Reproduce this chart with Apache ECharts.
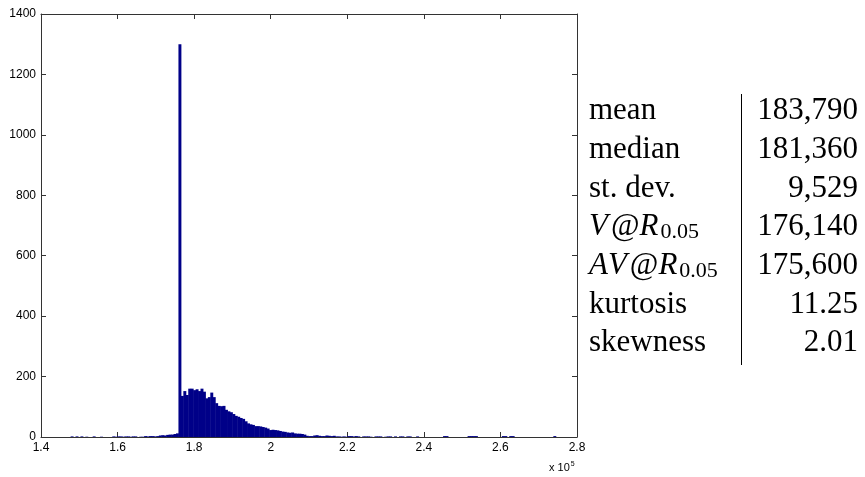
<!DOCTYPE html>
<html><head><meta charset="utf-8">
<script src="https://cdn.jsdelivr.net/npm/echarts@6/dist/echarts.min.js"></script>
<style>html,body{margin:0;padding:0;background:#fff}#c{width:865px;height:477px}</style>
</head><body><div id="c"></div>
<script>
// histogram bins: start value and width of each bin
const binStart = 147100;
const binWidth = 640;
// counts left of the spike
const leftCounts = [0,2,0,2,0,2,0,1,0,0, 2,0,0,1,0,0,0,0,2,1, 2,2,1,2,2,1,2,2,0,1, 1,3,2,3,3,2,3,5,6,5, 7,8,8,10,12];
// the spike bin
const spikeCounts = [1300];
// main body right of the spike
const bodyCounts = [136,152,139,160,160,155,158,152,160,150, 128,132,147,132,112,103,102,103,90,85, 82,76,70,67,63,60,52,45,42,40, 36,36,35,33,31,28,23,24,23,22, 20,18,17,15,14,15,12,11,11];
// right tail
const tailCounts = [10,8,4,3,3,5,6,4,3,3, 5,4,3,4,2,2,1,2,1,3, 3,2,3,2,0,2,2,2,1,0, 2,2,2,0,1,2,2,0,2,0, 2,2,0,2,2,0,0,2,0,0, 0,0,0,0,0,0,0,0,3,3, 0,0,0,0,0,0,0,0,3,3, 3,3,0,0,0,0,0,0,0,0, 0,0,3,3,0,3,3,0,0,0, 0,0,0,0,0,0,0,0,0,0, 0,0,0,3,0];

const xTickLabels = ['1.4','1.6','1.8','2','2.2','2.4','2.6','2.8'];
const yTickLabels = ['0','200','400','600','800','1000','1200','1400'];

const statLabels = ['mean','median','st. dev.','{itv|V}@{it|R}{sub|0.05}','{it|A}{itv|V}@{it|R}{sub|0.05}','kurtosis','skewness'];
const statValues = ['183,790','181,360','9,529','176,140','175,600','11.25','2.01'];

const counts = leftCounts.concat(spikeCounts, bodyCounts, tailCounts);
const histData = counts.map((c, i) => [binStart + i * binWidth, binStart + (i + 1) * binWidth, c]);

const XMIN = 140000, XMAX = 280000, XINT = 20000;
const YMIN = 0, YMAX = 1400, YINT = 200;
const axisColor = '#333';
const labelFont = 'Liberation Sans, Arial, sans-serif';
const serif = 'Liberation Serif, Times New Roman, serif';

function xAxisDef(pos, showLabel) {
  return {
    type: 'value', min: XMIN, max: XMAX, interval: XINT, position: pos,
    axisLine: { show: true, onZero: false, lineStyle: { color: axisColor, width: 1 } },
    axisTick: { show: true, inside: true, length: 5, lineStyle: { color: axisColor } },
    axisLabel: { show: showLabel, color: '#000', fontSize: 12, fontFamily: labelFont, margin: 5,
      formatter: v => xTickLabels[Math.round((v - XMIN) / XINT)] },
    splitLine: { show: false }
  };
}
function yAxisDef(pos, showLabel) {
  return {
    type: 'value', min: YMIN, max: YMAX, interval: YINT, position: pos,
    axisLine: { show: true, onZero: false, lineStyle: { color: axisColor, width: 1 } },
    axisTick: { show: true, inside: true, length: 5, lineStyle: { color: axisColor } },
    axisLabel: { show: showLabel, color: '#000', fontSize: 12, fontFamily: labelFont, margin: 5,
      formatter: v => yTickLabels[Math.round((v - YMIN) / YINT)] },
    splitLine: { show: false }
  };
}

const rowH = 38.7;
const firstRowCenter = 111;

const chart = echarts.init(document.getElementById('c'), null, { renderer: 'canvas' });
chart.setOption({
  animation: false,
  backgroundColor: '#fff',
  grid: { left: 41, right: 288, top: 14, bottom: 40, containLabel: false },
  xAxis: [xAxisDef('bottom', true), xAxisDef('top', false)],
  yAxis: [yAxisDef('left', true), yAxisDef('right', false)],
  series: [{
    type: 'custom',
    xAxisIndex: 0, yAxisIndex: 0,
    encode: { x: [0, 1], y: 2 },
    data: histData,
    clip: true,
    renderItem: function (params, api) {
      const c = api.value(2);
      if (!c) return null;
      const p0 = api.coord([api.value(0), c]);
      const p1 = api.coord([api.value(1), 0]);
      return {
        type: 'rect',
        shape: { x: p0[0], y: p0[1], width: p1[0] - p0[0] + 0.5, height: p1[1] - p0[1] },
        style: { fill: '#000088' }
      };
    }
  }],
  graphic: [
    {
      type: 'text', x: 549, y: 468,
      style: {
        text: 'x 10{sup|5}', fill: '#000', fontSize: 11, fontFamily: labelFont,
        align: 'left', verticalAlign: 'middle',
        rich: { sup: { fontSize: 7, fontFamily: labelFont, fill: '#000', padding: [0, 0, 8, 1] } }
      }
    },
    {
      type: 'text', x: 589, y: firstRowCenter - rowH / 2,
      style: {
        text: statLabels.join('\n'), fill: '#000', fontSize: 31, fontFamily: serif,
        lineHeight: rowH, align: 'left', verticalAlign: 'top',
        rich: {
          it: { fontSize: 31, fontFamily: serif, fontStyle: 'italic', lineHeight: rowH, fill: '#000' },
          itv: { fontSize: 31, fontFamily: serif, fontStyle: 'italic', lineHeight: rowH, fill: '#000', padding: [0, 3, 0, 0] },
          sub: { fontSize: 22, fontFamily: serif, lineHeight: 22, padding: [10, 0, 0, 2], fill: '#000' }
        }
      }
    },
    {
      type: 'text', x: 858, y: firstRowCenter - rowH / 2,
      style: {
        text: statValues.join('\n'), fill: '#000', fontSize: 31, fontFamily: serif,
        lineHeight: rowH, align: 'right', verticalAlign: 'top'
      }
    },
    {
      type: 'line', shape: { x1: 741.5, y1: 94, x2: 741.5, y2: 365 },
      style: { stroke: '#000', lineWidth: 1 }
    }
  ]
});
</script></body></html>
